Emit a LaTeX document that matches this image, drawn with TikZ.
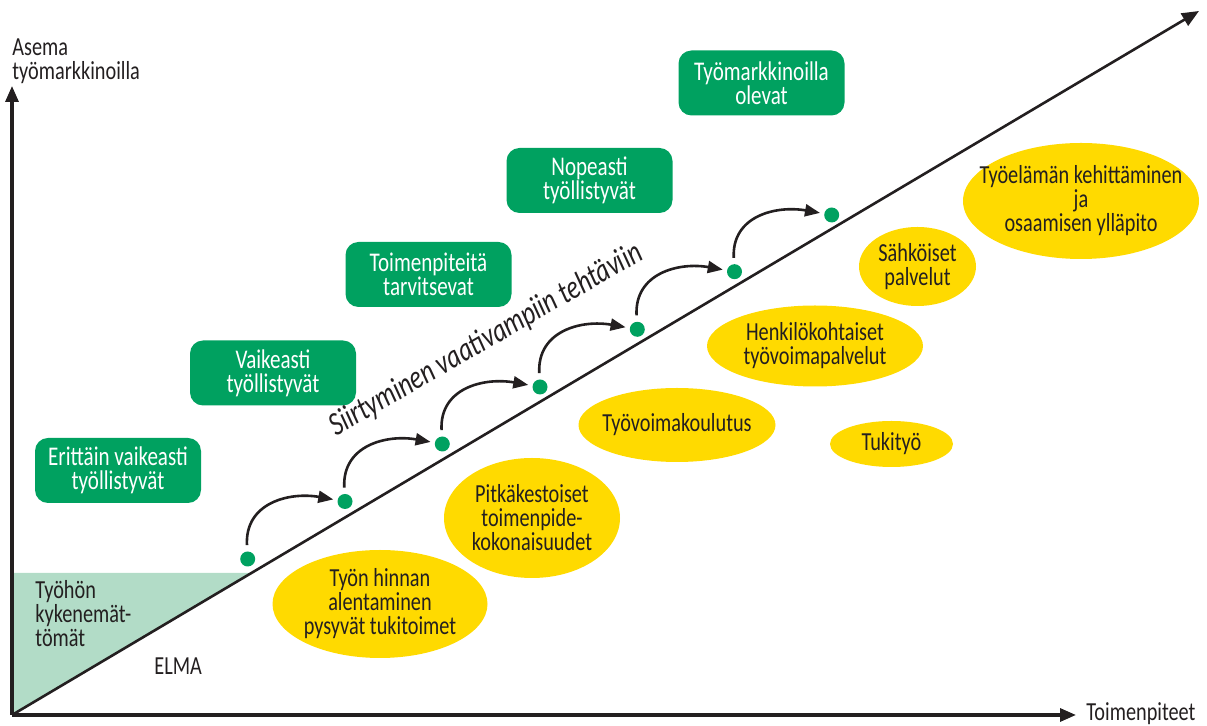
\documentclass[tikz,border=0pt]{standalone}
\usepackage{fontspec}
\setmainfont{Carlito}[FakeStretch=0.78]
\usepackage{tikz}
\usetikzlibrary{arrows.meta, shapes.geometric}

\definecolor{groupgreen}{RGB}{0,161,96}
\definecolor{palegreen}{RGB}{178,220,199}
\definecolor{serviceyellow}{RGB}{255,218,0}
\definecolor{inkblack}{RGB}{35,31,32}

\begin{document}
\begin{tikzpicture}[x=0.5pt, y=0.5pt, inkblack,
	group/.style={rectangle, rounded corners=6.5pt, fill=groupgreen, text=white, minimum width=83pt, minimum height=32.5pt, align=center, font=\fontsize{13.5}{12}\selectfont},
	service/.style={ellipse, fill=serviceyellow, inner xsep=-15pt, inner ysep=-8pt, align=center, font=\fontsize{13}{12}\selectfont},
	stepdot/.style={circle, fill=groupgreen, minimum size=7.5pt, inner sep=0pt},
	hop/.style={line width=1.3pt, -{Triangle[length=7.5pt, width=6pt]}, out=93, in=170, looseness=1.2, shorten <=3pt, shorten >=2pt},
	plain/.style={inner sep=0pt, font=\fontsize{13}{12}\selectfont}]

	\useasboundingbox (0,0) rectangle (1207,-726);

	% area left of the line
	\fill [palegreen] (12,-573) -- (251,-573) -- (12,-715) -- cycle;

	\coordinate (origin) at (12,-715);
	\coordinate (ytip) at (12,-86);
	\coordinate (xtip) at (1076,-715);
	\coordinate (diagtip) at (1199,-11);

	\begin{scope}[line width=1.6pt, -{Triangle[length=8pt, width=6.5pt]}]
		\draw (origin) -- (ytip);
		\draw (origin) -- (xtip);
	\end{scope}
	\draw [line width=1.3pt, -{Triangle[length=8.5pt, width=7pt]}] (origin) -- (diagtip);

	\node (yname) [plain, anchor=north west, align=left] at (12,-38) {Asema\\työmarkkinoilla};
	\node (xname) [plain, anchor=base west] at (1086,-721) {Toimenpiteet};
	\node (unable) [plain, anchor=north west, align=left] at (35,-580) {Työhön\\kykenemät-\\tömät};
	\node (elma) [plain, anchor=base west] at (154,-675) {ELMA};

	% groups
	\node (g1) [group] at (118,-470.5) {Erittäin vaikeasti\\työllistyvät};
	\node (g2) [group] at (273,-373) {Vaikeasti\\työllistyvät};
	\node (g3) [group] at (428.5,-274.5) {Toimenpiteitä\\tarvitsevat};
	\node (g4) [group] at (589.5,-180.5) {Nopeasti\\työllistyvät};
	\node (g5) [group] at (761.5,-83) {Työmarkkinoilla\\olevat};

	% services
	\node (s1) [service, minimum width=107.5pt, minimum height=54pt] at (380,-604) {Työn hinnan\\alentaminen\\pysyvät tukitoimet};
	\node (s2) [service, minimum width=88pt, minimum height=60pt] at (532,-518) {Pitkäkestoiset\\toimenpide-\\kokonaisuudet};
	\node (s3) [service, minimum width=98.5pt, minimum height=37pt] at (677,-425) {Työvoimakoulutus};
	\node (s4) [service, minimum width=108pt, minimum height=40.5pt] at (815,-346) {Henkilökohtaiset\\työvoimapalvelut};
	\node (s5) [service, minimum width=61.5pt, minimum height=23pt] at (891.5,-444) {Tukityö};
	\node (s6) [service, minimum width=58.5pt, minimum height=39.5pt] at (917.5,-266.5) {Sähköiset\\palvelut};
	\node (s7) [service, minimum width=118pt, minimum height=58pt] at (1081,-201) {Työelämän kehittäminen\\ja\\osaamisen ylläpito};

	\node (shift) [rotate=30, font=\fontsize{16.5}{18}\selectfont\itshape] at (486,-340) {Siirtyminen vaativampiin tehtäviin};

	% steps
	\node (d1) [stepdot] at (247.7,-559) {};
	\node (d2) [stepdot] at (345,-501.5) {};
	\node (d3) [stepdot] at (442.3,-444) {};
	\node (d4) [stepdot] at (540,-387) {};
	\node (d5) [stepdot] at (637.3,-329.3) {};
	\node (d6) [stepdot] at (734.5,-271.7) {};
	\node (d7) [stepdot] at (831.7,-215) {};

	\draw [hop] (d1) to (d2);
	\draw [hop] (d2) to (d3);
	\draw [hop] (d3) to (d4);
	\draw [hop] (d4) to (d5);
	\draw [hop] (d5) to (d6);
	\draw [hop] (d6) to (d7);
\end{tikzpicture}
\end{document}
